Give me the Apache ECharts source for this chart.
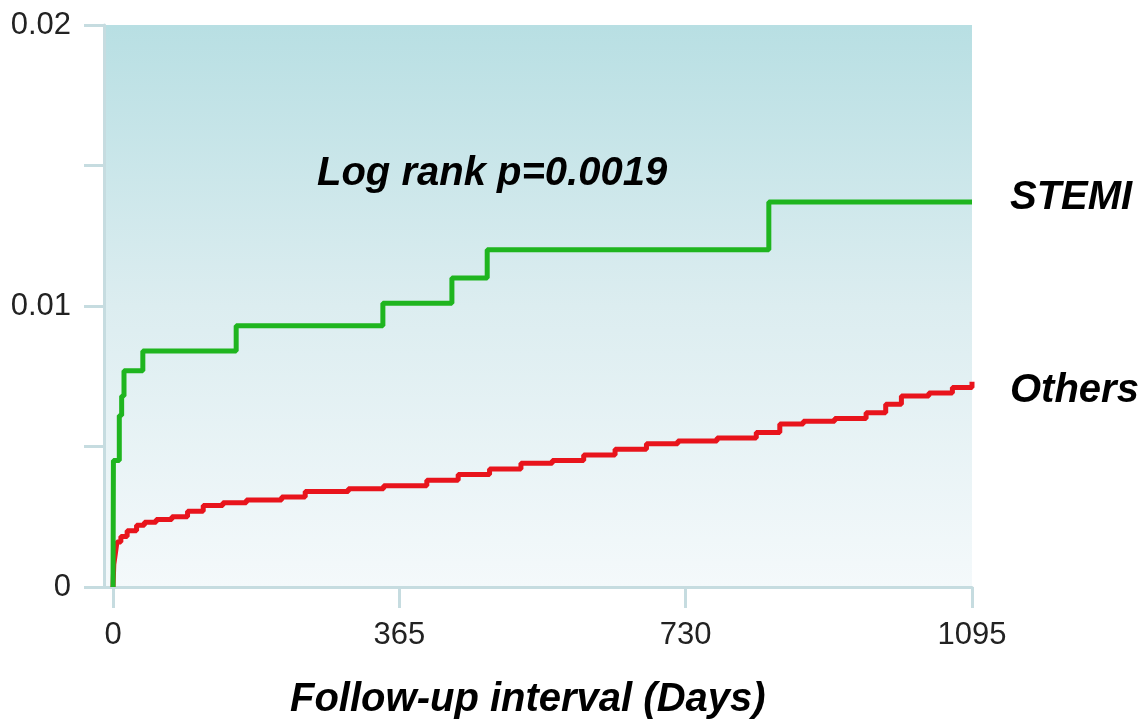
<!DOCTYPE html>
<html>
<head>
<meta charset="utf-8">
<script src="https://cdn.jsdelivr.net/npm/echarts@6/dist/echarts.min.js"></script>
<style>
html,body{margin:0;padding:0;background:#fff;}
#chart{width:1147px;height:725px;}
</style>
</head>
<body>
<div id="chart"></div>
<script>
// Data
const xTicks = [0, 365, 730, 1095];
const yTicks = [0, 0.005, 0.01, 0.015, 0.02];
const yTickLabels = ['0', '', '0.01', '', '0.02'];

const stemiDays = [0, 0.5, 8, 11, 14, 38, 157, 344, 432, 477, 836, 1095];
const stemiRisk = [0, 0.0045, 0.0061, 0.0068, 0.0077, 0.0084, 0.0093, 0.0101, 0.0110, 0.0120, 0.0137, 0.0137];

const othersDays = [0, 1, 3, 5, 10, 18, 30, 40, 55, 75, 95, 115, 140, 170, 215, 245, 300, 345, 400, 440, 480, 520, 560, 600, 640, 680, 720, 770, 820, 850, 880, 920, 960, 985, 1005, 1040, 1070, 1095];
const othersRisk = [0, 0.0008, 0.0012, 0.0016, 0.0018, 0.0020, 0.0022, 0.0023, 0.0024, 0.0025, 0.0027, 0.0029, 0.0030, 0.0031, 0.0032, 0.0034, 0.0035, 0.0036, 0.0038, 0.0040, 0.0042, 0.0044, 0.0045, 0.0047, 0.0049, 0.0051, 0.0052, 0.0053, 0.0055, 0.0058, 0.0059, 0.0060, 0.0062, 0.0065, 0.0068, 0.0069, 0.0071, 0.0073];

const seriesNames = ['Others', 'STEMI'];
const annotation = 'Log rank p=0.0019';
const xAxisTitle = 'Follow-up interval (Days)';

const zip = (a, b) => a.map((v, i) => [v, b[i]]);

const chart = echarts.init(document.getElementById('chart'), null, {renderer: 'canvas'});
const axisColor = '#c6dce0';
const tickFont = "'Liberation Sans', Arial, sans-serif";
const boldFont = "'Liberation Sans', Arial, sans-serif";

chart.setOption({
  animation: false,
  grid: {
    left: 104, right: 175, top: 25, bottom: 138,
    show: true, borderWidth: 0,
    backgroundColor: new echarts.graphic.LinearGradient(0, 0, 0, 1, [
      {offset: 0, color: '#b8dfe3'},
      {offset: 0.5, color: '#dcedf0'},
      {offset: 1, color: '#f4f9fb'}
    ])
  },
  xAxis: {
    type: 'value',
    min: -11.5, max: 1095,
    splitLine: {show: false},
    axisLine: {show: true, onZero: false, lineStyle: {color: axisColor, width: 3}},
    axisTick: {show: true, customValues: xTicks, length: 21, lineStyle: {color: axisColor, width: 3}},
    axisLabel: {
      customValues: xTicks, margin: 33,
      fontFamily: tickFont, fontSize: 31, color: '#222',
      formatter: function (v) { return String(v); }
    }
  },
  yAxis: {
    type: 'value',
    min: 0, max: 0.02, interval: 0.005,
    splitLine: {show: false},
    axisLine: {show: true, onZero: false, lineStyle: {color: axisColor, width: 3}},
    axisTick: {show: true, length: 20, lineStyle: {color: axisColor, width: 3}},
    axisLabel: {
      margin: 33,
      fontFamily: tickFont, fontSize: 31, color: '#222',
      formatter: function (v) {
        const i = yTicks.findIndex(t => Math.abs(t - v) < 1e-9);
        return i >= 0 ? yTickLabels[i] : '';
      }
    }
  },
  series: [
    {
      name: seriesNames[0], type: 'line', step: 'end', showSymbol: false, symbol: 'none',
      data: zip(othersDays, othersRisk),
      lineStyle: {color: '#e8141c', width: 5},
      itemStyle: {color: '#e8141c'},
      endLabel: {
        show: true, formatter: '{a}', distance: 38, offset: [0, 9],
        fontFamily: boldFont, fontWeight: 'bold', fontStyle: 'italic', fontSize: 40, color: '#000'
      }
    },
    {
      name: seriesNames[1], type: 'line', step: 'end', showSymbol: false, symbol: 'none',
      data: zip(stemiDays, stemiRisk),
      lineStyle: {color: '#1fb51f', width: 5},
      itemStyle: {color: '#1fb51f'},
      endLabel: {
        show: true, formatter: '{a}', distance: 38, offset: [0, -4],
        fontFamily: boldFont, fontWeight: 'bold', fontStyle: 'italic', fontSize: 40, color: '#000'
      }
    }
  ],
  graphic: [
    {
      type: 'text', left: 317, top: 154,
      style: {text: annotation, font: "italic bold 40px 'Liberation Sans', Arial, sans-serif", fill: '#000'}
    },
    {
      type: 'text', left: 290, top: 680,
      style: {text: xAxisTitle, font: "italic bold 40px 'Liberation Sans', Arial, sans-serif", fill: '#000'}
    }
  ]
});
</script>
</body>
</html>
